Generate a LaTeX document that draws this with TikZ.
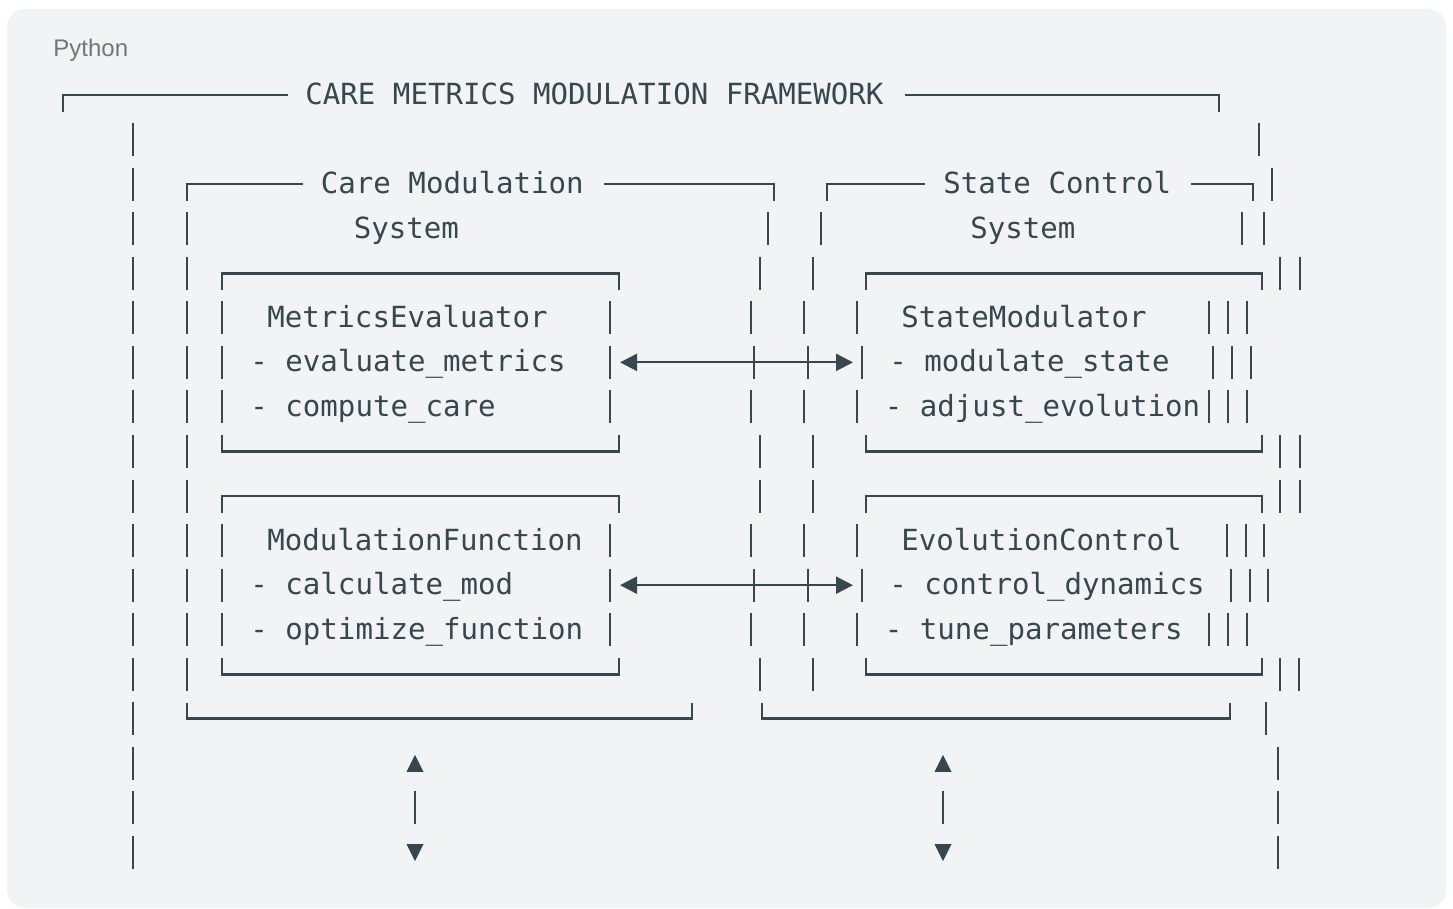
\documentclass[tikz,border=0pt]{standalone}
\usepackage{fontspec}
\setmonofont{DejaVu Sans Mono}
\newfontfamily\labelfont{Liberation Sans}
\usetikzlibrary{arrows.meta}
\definecolor{ink}{HTML}{37474F}
\definecolor{bgc}{HTML}{F1F3F5}
\definecolor{lbl}{HTML}{757575}
\newcommand\cyv[1]{(95+(#1-1)*44.56)}
\newcommand\barsrow[2]{\foreach \xx in {#2}{\draw[ln] (\xx,{\cyv{#1}-16.5}) -- (\xx,{\cyv{#1}+16.5});}}
\newcommand\boxtop[3]{\draw[ln] (#2,{\cyv{#1}+17}) -- (#2,{\cyv{#1}}) -- (#3,{\cyv{#1}}) -- (#3,{\cyv{#1}+17});}
\newcommand\boxbot[3]{\draw[ln] (#2,{\cyv{#1}-16}) -- (#2,{\cyv{#1}}) -- (#3,{\cyv{#1}}) -- (#3,{\cyv{#1}-16});}
\newcommand\mtext[4]{\node[mono] (#1) at (#3,{\cyv{#2}+9.5}) {#4};}
\tikzset{
  ln/.style={draw=ink, line width=1.35pt, line cap=butt, line join=miter},
  mono/.style={font=\ttfamily\fontsize{14.55}{17}\selectfont, text=ink, inner sep=0pt, anchor=base west},
  harrow/.style={draw=ink, line width=1.1pt, {Triangle[length=8.5pt,width=8.5pt]}-{Triangle[length=8.5pt,width=8.5pt]}},
  tri/.style={fill=ink}
}
\begin{document}
\begin{tikzpicture}[x=0.5pt,y=-0.5pt]
\useasboundingbox (0,0) rectangle (1453,909);
\fill[white] (0,0) rectangle (1453,909);
\fill[bgc, rounded corners=9pt] (7,9) rectangle (1446,908);
\node[font=\labelfont\fontsize{12}{14}\selectfont, text=lbl, anchor=base west, inner sep=0pt] (lang) at (53,57) {Python};

% row 1
\draw[ln] (63,{\cyv{1}+17}) -- (63,{\cyv{1}}) -- (288,{\cyv{1}});
\mtext{title}{1}{305}{CARE METRICS MODULATION FRAMEWORK}
\draw[ln] (905,{\cyv{1}}) -- (1219,{\cyv{1}}) -- (1219,{\cyv{1}+17});
% row 2
\barsrow{2}{133,1259}
% row 3
\barsrow{3}{133,1272}
\draw[ln] (187,{\cyv{3}+17}) -- (187,{\cyv{3}}) -- (303,{\cyv{3}});
\mtext{cms1}{3}{320.5}{Care Modulation}
\draw[ln] (604,{\cyv{3}}) -- (774,{\cyv{3}}) -- (774,{\cyv{3}+17});
\draw[ln] (827,{\cyv{3}+17}) -- (827,{\cyv{3}}) -- (925,{\cyv{3}});
\mtext{scs1}{3}{943}{State Control}
\draw[ln] (1191,{\cyv{3}}) -- (1253,{\cyv{3}}) -- (1253,{\cyv{3}+17});
% row 4
\barsrow{4}{133,187,768,821,1242,1264}
\mtext{cms2}{4}{353.5}{System}
\mtext{scs2}{4}{970}{System}
% row 5
\barsrow{5}{133,187,760,813,1280,1300}
\boxtop{5}{222}{619}
\boxtop{5}{866}{1262}
% row 6
\barsrow{6}{133,187,222,610,751,804,857,1209,1228,1247}
\mtext{me}{6}{267}{MetricsEvaluator}
\mtext{sm}{6}{901}{StateModulator}
% row 7
\barsrow{7}{133,187,222,610,754,808,862,1213,1232,1251}
\mtext{me1}{7}{250}{- evaluate\_metrics}
\mtext{sm1}{7}{889}{- modulate\_state}
\coordinate (a1l) at (620,{\cyv{7}});
\coordinate (a1r) at (853,{\cyv{7}});
\draw[harrow] (a1l) -- (a1r);
% row 8
\barsrow{8}{133,187,222,610,751,804,857,1209,1228,1247}
\mtext{me2}{8}{250}{- compute\_care}
\mtext{sm2}{8}{884.5}{- adjust\_evolution}
% row 9
\barsrow{9}{133,187,760,813,1280,1300}
\boxbot{9}{222}{619}
\boxbot{9}{866}{1262}
% row 10
\barsrow{10}{133,187,760,813,1280,1300}
\boxtop{10}{222}{619}
\boxtop{10}{866}{1262}
% row 11
\barsrow{11}{133,187,222,610,751,804,857,1227,1246,1264}
\mtext{mf}{11}{267}{ModulationFunction}
\mtext{ec}{11}{901}{EvolutionControl}
% row 12
\barsrow{12}{133,187,222,610,754,808,862,1231,1250,1268}
\mtext{mf1}{12}{250}{- calculate\_mod}
\mtext{ec1}{12}{889}{- control\_dynamics}
\coordinate (a2l) at (620,{\cyv{12}});
\coordinate (a2r) at (853,{\cyv{12}});
\draw[harrow] (a2l) -- (a2r);
% row 13
\barsrow{13}{133,187,222,610,751,804,857,1209,1228,1247}
\mtext{mf2}{13}{250}{- optimize\_function}
\mtext{ec2}{13}{884.5}{- tune\_parameters}
% row 14
\barsrow{14}{133,187,760,813,1280,1299}
\boxbot{14}{222}{619}
\boxbot{14}{866}{1262}
% row 15
\barsrow{15}{133,1266}
\boxbot{15}{187}{692}
\boxbot{15}{762}{1230}
% rows 16-18
\barsrow{16}{133,1278}
\barsrow{17}{133,415,943,1278}
\barsrow{18}{133,1278}
\foreach \xx in {415,943}{
  \fill[tri] (\xx-8.5,{\cyv{16}+8.5}) -- (\xx+8.5,{\cyv{16}+8.5}) -- (\xx,{\cyv{16}-8.5}) -- cycle;
  \fill[tri] (\xx-8.5,{\cyv{18}-8.5}) -- (\xx+8.5,{\cyv{18}-8.5}) -- (\xx,{\cyv{18}+8.5}) -- cycle;
}
\end{tikzpicture}
\end{document}
